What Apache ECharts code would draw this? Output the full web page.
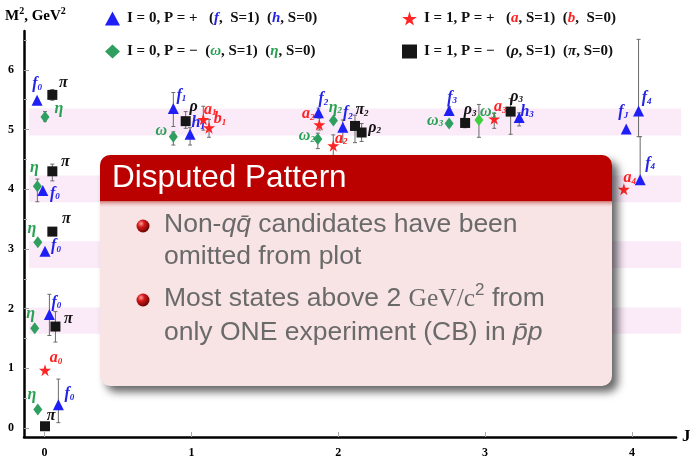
<!DOCTYPE html>
<html>
<head>
<meta charset="utf-8">
<script src="https://cdn.jsdelivr.net/npm/echarts@6/dist/echarts.min.js"></script>
<style>
  html, body { margin: 0; padding: 0; background: #fff; }
  #chart { width: 691px; height: 458px; }
</style>
</head>
<body>
<div id="chart"></div>
<script>
// Axis ticks
const J_TICKS = [0, 1, 2, 3, 4];
const M2_TICKS = [0, 1, 2, 3, 4, 5, 6];
const M2_HALF_TICKS = [0.5, 1.5, 2.5, 3.5, 4.5, 5.5, 6.5];

// Shaded mass-squared bands [low, high] in GeV^2
const bands = [[4.90, 5.35], [3.78, 4.23], [2.68, 3.13], [1.58, 2.02]];

// Meson states: [J (slightly spread), M^2, error low, error high, letter, subscript]
// I = 0, P = +  (f, h)
const isoZeroPlus = [
  [-0.051, 5.49, null, null, 'f', '0'],
  [-0.012, 3.98, null, null, 'f', '0'],
  [0.003, 2.96, null, null, 'f', '0'],
  [0.033, 1.90, 1.55, 2.24, 'f', '0'],
  [0.094, 0.39, 0.09, 0.82, 'f', '0'],
  [0.877, 5.35, 5.05, 5.62, 'f', '1'],
  [0.991, 4.92, 4.74, 5.03, 'h', '1'],
  [1.865, 5.28, 5.22, 5.36, 'f', '2'],
  [2.031, 5.04, 4.79, 5.16, 'f', '2'],
  [2.755, 5.32, 5.28, 5.38, 'f', '3'],
  [3.232, 5.20, 5.06, 5.28, 'h', '3'],
  [4.045, 5.31, 4.88, 6.51, 'f', '4'],
  [3.961, 5.01, null, null, 'f', 'J'],
  [4.056, 4.16, 4.16, 4.88, 'f', '4']
];
// I = 0, P = -  (omega, eta)
const isoZeroMinus = [
  [0.003, 5.21, 5.14, 5.30, 'η', ''],
  [-0.049, 4.05, 3.79, 4.17, 'η', ''],
  [-0.046, 3.11, null, null, 'η', ''],
  [-0.067, 1.67, null, null, 'η', ''],
  [-0.046, 0.31, null, null, 'η', ''],
  [0.877, 4.88, 4.74, 4.96, 'ω', ''],
  [1.861, 4.84, 4.68, 4.94, 'ω', '2'],
  [1.967, 5.15, null, null, 'η', '2'],
  [2.755, 5.10, 5.05, 5.15, 'ω', '3'],
  [2.958, 5.16, 4.87, 5.42, 'ω', '3']
];
// I = 1, P = +  (a, b)
const isoOnePlus = [
  [0.003, 0.97, null, null, 'a', '0'],
  [1.081, 5.17, 4.99, 5.39, 'a', '1'],
  [1.120, 5.03, 4.87, 5.17, 'b', '1'],
  [1.871, 5.08, 4.99, 5.19, 'a', '2'],
  [1.966, 4.73, 4.50, 4.91, 'a', '2'],
  [3.062, 5.18, 5.02, 5.27, 'a', '3'],
  [3.945, 4.00, null, null, 'a', '4']
];
// I = 1, P = -  (rho, pi)
const isoOneMinus = [
  [0.053, 5.58, 5.49, 5.67, 'π', ''],
  [0.053, 4.30, 4.14, 4.42, 'π', ''],
  [0.053, 3.29, null, null, 'π', ''],
  [0.074, 1.70, 1.44, 1.95, 'π', ''],
  [0.003, 0.03, null, null, 'π', ''],
  [0.961, 5.14, 5.02, 5.30, 'ρ', ''],
  [2.114, 5.06, 4.78, 5.24, 'π', '2'],
  [2.159, 4.95, 4.80, 5.10, 'ρ', '2'],
  [2.864, 5.11, 5.03, 5.17, 'ρ', '3'],
  [3.174, 5.30, 4.92, 5.52, 'ρ', '3']
];

// Label placement (pixel offsets from each marker), same order as above
const offZeroPlus = [[0,-17],[12,2],[11,-6],[7,-13],[11,-12],[8,-14],[8,-12],[5,-15],[5,-15],[3,-14],[8,-7],[8,-14],[-3,-18],[10,-17]];
const offZeroMinus = [[14,-9],[-3,-19],[-6,-14],[-4,-15],[-6,-16],[-12,-7],[-11,-4],[2,-14],[-14,-4],[9,-9]];
const offOnePlus = [[11,-13],[7,-11],[11,-10],[-11,-12],[8,-8],[6,-13],[6,-12]];
const offOneMinus = [[11,-13],[13,-10],[14,-14],[13,-9],[6,-11],[8,-15],[7,-17],[13,-6],[5,-14],[6,-16]];

const STAR = 'path://M50,0 L61,35 L98,35 L68,57 L79,91 L50,70 L21,91 L32,57 L2,35 L39,35 Z';
const SERIF = '"Liberation Serif", "DejaVu Serif", serif';
const SANS = '"Liberation Sans", Arial, sans-serif';

const families = [
  { name: 'I=0,P=+', rows: isoZeroPlus, offs: offZeroPlus, color: '#1e1ef5', labelColor: '#2323e6', symbol: 'triangle', size: 11 },
  { name: 'I=0,P=-', rows: isoZeroMinus, offs: offZeroMinus, color: '#2f9f5f', labelColor: '#27a052', symbol: 'diamond', size: [9, 12] },
  { name: 'I=1,P=+', rows: isoOnePlus, offs: offOnePlus, color: '#ff2323', labelColor: '#ff2020', symbol: STAR, size: 12 },
  { name: 'I=1,P=-', rows: isoOneMinus, offs: offOneMinus, color: '#161616', labelColor: '#111111', symbol: 'rect', size: 10 }
];
// the second omega_3 is drawn in a lighter green
const lightGreen = { family: 1, index: 9, color: '#3fcf3f' };

function labelRich(color) {
  return {
    n: { fontFamily: SERIF, fontStyle: 'italic', fontWeight: 'bold', fontSize: 16, color: color, verticalAlign: 'bottom', lineHeight: 18 },
    s: { fontFamily: SERIF, fontStyle: 'italic', fontWeight: 'bold', fontSize: 9, color: color, verticalAlign: 'bottom', lineHeight: 12 }
  };
}

const errorData = [];
families.forEach(f => f.rows.forEach(r => { if (r[2] !== null) errorData.push([r[0], r[2], r[3]]); }));

const scatterSeries = families.map((f, fi) => ({
  name: f.name,
  type: 'scatter',
  symbol: f.symbol,
  symbolSize: f.size,
  itemStyle: { color: f.color, opacity: 1 },
  z: 5,
  clip: false,
  label: {
    show: true,
    position: 'inside',
    align: 'center',
    verticalAlign: 'middle',
    rich: labelRich(f.labelColor)
  },
  data: f.rows.map((r, i) => {
    const item = {
      value: [r[0], r[1]],
      label: {
        offset: f.offs[i],
        formatter: '{n|' + r[4] + '}' + (r[5] ? '{s|' + r[5] + '}' : '')
      }
    };
    if (fi === lightGreen.family && i === lightGreen.index) item.itemStyle = { color: lightGreen.color };
    return item;
  })
}));

const BAND_J0 = -0.105, BAND_J1 = 4.335;

const legendNames = {
  'I=0,P=+': '{t|I = 0, P = +   (}{bl|f}{t|,  S=1)  (}{bl|h}{t|, S=0)}',
  'I=0,P=-': '{t|I = 0, P = −  (}{gr|ω}{t|, S=1)  (}{gr|η}{t|, S=0)}',
  'I=1,P=+': '{t|I = 1, P = +   (}{rd|a}{t|, S=1)  (}{rd|b}{t|,  S=0)}',
  'I=1,P=-': '{t|I = 1, P = −   (}{bk|ρ}{t|, S=1)  (}{bk|π}{t|, S=0)}'
};
const legendRich = {
  t: { fontFamily: SERIF, fontWeight: 'bold', fontSize: 15, color: '#111' },
  bl: { fontFamily: SERIF, fontWeight: 'bold', fontStyle: 'italic', fontSize: 15, color: '#2323e6' },
  gr: { fontFamily: SERIF, fontWeight: 'bold', fontStyle: 'italic', fontSize: 15, color: '#27a052' },
  rd: { fontFamily: SERIF, fontWeight: 'bold', fontStyle: 'italic', fontSize: 15, color: '#ff2020' },
  bk: { fontFamily: SERIF, fontWeight: 'bold', fontStyle: 'italic', fontSize: 15, color: '#111' }
};
function legendBlock(left, names) {
  return {
    left: left, top: 6, orient: 'vertical', itemGap: 18,
    itemWidth: 15, itemHeight: 14,
    data: names,
    formatter: n => legendNames[n],
    textStyle: { rich: legendRich, padding: [0, 0, 0, 2] },
    selectedMode: false
  };
}

// Overlay note box (drawn on its own layer above the plot)
const BOX = { x: 100, y: 155, w: 512, h: 231, bar: 46 };
const ballFill = {
  type: 'radial', x: 0.35, y: 0.32, r: 0.75,
  colorStops: [
    { offset: 0, color: '#ff9c9c' },
    { offset: 0.35, color: '#d61a1a' },
    { offset: 1, color: '#5c0000' }
  ]
};
const noteRich = {
  i: { fontFamily: SANS, fontStyle: 'italic', fontSize: 26.5, color: '#6a6a6a' },
  s: { fontFamily: SERIF, fontSize: 25.5, color: '#6a6a6a' },
  sup: { fontFamily: SANS, fontSize: 17, color: '#6a6a6a', verticalAlign: 'top', lineHeight: 34 }
};
const NOTE_LAYER = 2;

const chart = echarts.init(document.getElementById('chart'), null, { renderer: 'canvas' });
chart.setOption({
  animation: false,
  backgroundColor: '#ffffff',
  grid: { left: 24, right: 15, top: 31, bottom: 21, containLabel: false, outerBoundsMode: 'none' },
  legend: [
    legendBlock(100, ['I=0,P=+', 'I=0,P=-']),
    legendBlock(397, ['I=1,P=+', 'I=1,P=-'])
  ],
  xAxis: {
    type: 'value', min: -0.14, max: 4.3,
    name: 'J', nameLocation: 'end', nameGap: 6,
    nameTextStyle: { fontFamily: SERIF, fontWeight: 'bold', fontSize: 17, color: '#000' },
    axisLine: { onZero: false, lineStyle: { color: '#000', width: 2.5 } },
    axisTick: { inside: true, length: 5, customValues: J_TICKS, lineStyle: { color: '#aaa' } },
    axisLabel: { customValues: J_TICKS, fontFamily: SERIF, fontWeight: 'bold', fontSize: 12, color: '#000', margin: 10 },
    splitLine: { show: false }
  },
  yAxis: [{
    type: 'value', min: -0.15, max: 6.65,
    axisLine: { show: true, onZero: false, lineStyle: { color: '#000', width: 2.5 } },
    axisTick: { show: true, inside: true, length: 5, customValues: M2_TICKS, lineStyle: { color: '#999' } },
    axisLabel: { customValues: M2_TICKS, fontFamily: SERIF, fontWeight: 'bold', fontSize: 12, color: '#000', margin: 10 },
    splitLine: { show: false }
  }, {
    type: 'value', min: -0.15, max: 6.65, position: 'left',
    axisLine: { show: false, onZero: false },
    axisTick: { show: true, inside: true, length: 3, customValues: M2_HALF_TICKS, lineStyle: { color: '#aaa' } },
    axisLabel: { show: false },
    splitLine: { show: false }
  }],
  series: [
    {
      type: 'custom', name: 'bands', z: 1, silent: true,
      data: bands,
      renderItem: (params, api) => {
        const p0 = api.coord([BAND_J0, api.value(1)]);
        const p1 = api.coord([BAND_J1, api.value(0)]);
        return { type: 'rect', shape: { x: p0[0], y: p0[1], width: p1[0] - p0[0], height: p1[1] - p0[1] }, style: { fill: '#fbebf9' } };
      }
    },
    {
      type: 'custom', name: 'errors', z: 3, silent: true,
      data: errorData,
      renderItem: (params, api) => {
        const x = api.value(0);
        const b = api.coord([x, api.value(1)]);
        const t = api.coord([x, api.value(2)]);
        const st = { stroke: '#6b6b6b', lineWidth: 1 };
        return { type: 'group', children: [
          { type: 'line', shape: { x1: t[0], y1: t[1], x2: b[0], y2: b[1] }, style: st },
          { type: 'line', shape: { x1: t[0] - 2, y1: t[1], x2: t[0] + 2, y2: t[1] }, style: st },
          { type: 'line', shape: { x1: b[0] - 2, y1: b[1], x2: b[0] + 2, y2: b[1] }, style: st }
        ] };
      }
    }
  ].concat(scatterSeries),
  graphic: [
    {
      type: 'text', left: 5, top: 6, z: 20,
      style: {
        text: '{m|M}{p|2}{m|, GeV}{p|2}',
        rich: {
          m: { fontFamily: SERIF, fontWeight: 'bold', fontSize: 15, color: '#000', verticalAlign: 'bottom', lineHeight: 18 },
          p: { fontFamily: SERIF, fontWeight: 'bold', fontSize: 10, color: '#000', verticalAlign: 'top', lineHeight: 18 }
        }
      }
    },
    { type: 'rect', zlevel: NOTE_LAYER, z: 1, shape: { x: BOX.x, y: BOX.y, width: BOX.w, height: BOX.h, r: 10 },
      style: { fill: '#f8e4e4', shadowBlur: 9, shadowOffsetX: 6, shadowOffsetY: 6, shadowColor: 'rgba(0,0,0,0.6)' } },
    { type: 'rect', zlevel: NOTE_LAYER, z: 2, shape: { x: BOX.x, y: BOX.y, width: BOX.w, height: BOX.bar, r: [10, 10, 0, 0] },
      style: { fill: '#bb0000' } },
    { type: 'rect', zlevel: NOTE_LAYER, z: 2, shape: { x: BOX.x, y: BOX.y + BOX.bar, width: BOX.w, height: 7 },
      style: { fill: { type: 'linear', x: 0, y: 0, x2: 0, y2: 1, colorStops: [
        { offset: 0, color: 'rgba(170,20,20,0.55)' }, { offset: 1, color: 'rgba(248,228,228,0)' } ] } } },
    { type: 'text', zlevel: NOTE_LAYER, z: 3, x: 112, y: 178,
      style: { text: 'Disputed Pattern', font: 'normal 31.5px ' + SANS, fill: '#ffffff', verticalAlign: 'middle' } },
    { type: 'circle', zlevel: NOTE_LAYER, z: 3, shape: { cx: 143, cy: 226, r: 6.5 }, style: { fill: ballFill } },
    { type: 'circle', zlevel: NOTE_LAYER, z: 3, shape: { cx: 143, cy: 300, r: 6.5 }, style: { fill: ballFill } },
    { type: 'text', zlevel: NOTE_LAYER, z: 3, x: 164, y: 209,
      style: { text: 'Non-{i|q}{i|q̄} candidates have been\nomitted from plot', font: 'normal 26.5px ' + SANS,
        fill: '#6a6a6a', lineHeight: 32, rich: noteRich } },
    { type: 'text', zlevel: NOTE_LAYER, z: 3, x: 164, y: 282,
      style: { text: 'Most states above 2 {s|GeV/c}{sup|2} from\nonly ONE experiment (CB) in {i|p̄p}', font: 'normal 26.5px ' + SANS,
        fill: '#6a6a6a', lineHeight: 34, rich: noteRich } }
  ]
});
</script>
</body>
</html>
